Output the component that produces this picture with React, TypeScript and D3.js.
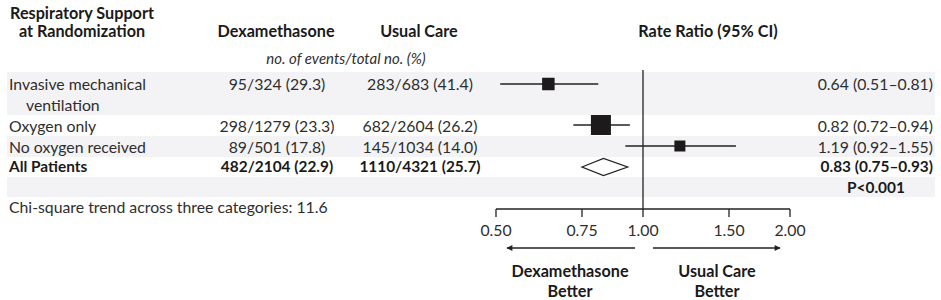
import React from "react";
import * as d3 from "d3";

const rowLabels = [["Invasive mechanical", "ventilation"], ["Oxygen only"], ["No oxygen received"], ["All Patients"]];
const dexaText = ["95/324 (29.3)", "298/1279 (23.3)", "89/501 (17.8)", "482/2104 (22.9)"];
const usualText = ["283/683 (41.4)", "682/2604 (26.2)", "145/1034 (14.0)", "1110/4321 (25.7)"];
const ratio = [0.64, 0.82, 1.19, 0.83];
const lower = [0.51, 0.72, 0.92, 0.75];
const upper = [0.81, 0.94, 1.55, 0.93];
const boxSize = [12.5, 20, 11, 0];
const ratioText = ["0.64 (0.51\u20130.81)", "0.82 (0.72\u20130.94)", "1.19 (0.92\u20131.55)", "0.83 (0.75\u20130.93)"];
const ticks = [0.5, 0.75, 1.0, 1.5, 2.0];
const tickLabels = ["0.50", "0.75", "1.00", "1.50", "2.00"];

const W = 941, H = 300;
const FONT = "Lato, 'Open Sans', sans-serif";
const TXT = "#2e2e2e";
const BOLD = "#1a1a1a";
const STRIPE = "#f3f3f5";
const FS = 15.8;
const FB = 16.2;
const FR = 15.4;

export default function App() {
  const x = d3.scaleLog().domain([0.5, 2.0]).range([496, 790]);
  const rowY = [84, 125, 146, 167];
  const labelY = [[83, 104], [125], [146], [166]];
  const stripes = [[72, 115], [136, 157], [177, 197]];
  const axisY = 209;
  return (
    <svg width={W} height={H} style={{ position: "absolute", left: 0, top: 0, background: "#fff" }} fontFamily={FONT}>
      {stripes.map(([a, b], i) => (
        <rect key={i} x={7} y={a} width={928} height={b - a} fill={STRIPE} />
      ))}
      {/* headers */}
      <text x={82} y={12} textAnchor="middle" dominantBaseline="central" fontSize={FB} fontWeight="bold" fill={BOLD}>Respiratory Support</text>
      <text x={82} y={30} textAnchor="middle" dominantBaseline="central" fontSize={FB} fontWeight="bold" fill={BOLD}>at Randomization</text>
      <text x={276} y={30} textAnchor="middle" dominantBaseline="central" fontSize={FB} fontWeight="bold" fill={BOLD}>Dexamethasone</text>
      <text x={419} y={30} textAnchor="middle" dominantBaseline="central" fontSize={FB} fontWeight="bold" fill={BOLD}>Usual Care</text>
      <text x={708} y={30} textAnchor="middle" dominantBaseline="central" fontSize={FB} fontWeight="bold" fill={BOLD}>Rate Ratio (95% CI)</text>
      <text x={346} y={58} textAnchor="middle" dominantBaseline="central" fontSize={15} fontStyle="italic" fill={TXT}>no. of events/total no. (%)</text>
      {/* rows */}
      {rowLabels.map((lines, i) =>
        lines.map((l, j) => (
          <text key={i + "-" + j} x={j === 0 ? 9 : 26} y={labelY[i][j]} dominantBaseline="central" fontSize={i === 3 ? FR : FS}
            fontWeight={i === 3 ? "bold" : "normal"} fill={i === 3 ? BOLD : TXT}>{l}</text>
        ))
      )}
      {dexaText.map((t, i) => (
        <text key={"d" + i} x={277} y={labelY[i][0]} textAnchor="middle" dominantBaseline="central" fontSize={i === 3 ? FR : FS}
          fontWeight={i === 3 ? "bold" : "normal"} fill={i === 3 ? BOLD : TXT}>{t}</text>
      ))}
      {usualText.map((t, i) => (
        <text key={"u" + i} x={420} y={labelY[i][0]} textAnchor="middle" dominantBaseline="central" fontSize={i === 3 ? FR : FS}
          fontWeight={i === 3 ? "bold" : "normal"} fill={i === 3 ? BOLD : TXT}>{t}</text>
      ))}
      {ratioText.map((t, i) => (
        <text key={"r" + i} x={933} y={labelY[i][0]} textAnchor="end" dominantBaseline="central" fontSize={i === 3 ? FR : FS}
          fontWeight={i === 3 ? "bold" : "normal"} fill={i === 3 ? BOLD : TXT}>{t}</text>
      ))}
      <text x={876} y={187} textAnchor="middle" dominantBaseline="central" fontSize={FR} fontWeight="bold" fill={BOLD}>P&lt;0.001</text>
      <text x={9} y={206} dominantBaseline="central" fontSize={FS} fill={TXT}>Chi-square trend across three categories: 11.6</text>
      {/* reference line */}
      <line x1={x(1)} x2={x(1)} y1={70} y2={axisY} stroke="#222" strokeWidth={1.3} />
      {/* CIs and boxes */}
      {ratio.map((r, i) => {
        if (i === 3) {
          const cy = rowY[i], h = 8.5;
          const pts = [[x(lower[i]), cy], [x(r), cy - h], [x(upper[i]), cy], [x(r), cy + h]];
          return <polygon key={"dm" + i} points={pts.map(p => p.join(",")).join(" ")} fill="#fff" stroke="#222" strokeWidth={1.3} />;
        }
        const s = boxSize[i];
        return (
          <g key={"b" + i}>
            <line x1={x(lower[i])} x2={x(upper[i])} y1={rowY[i]} y2={rowY[i]} stroke="#222" strokeWidth={1.3} />
            <rect x={x(r) - s / 2} y={rowY[i] - s / 2} width={s} height={s} fill="#1c1a1a" />
          </g>
        );
      })}
      {/* axis */}
      <line x1={x(0.5)} x2={x(2)} y1={axisY} y2={axisY} stroke="#222" strokeWidth={1.3} />
      {ticks.map((t, i) => (
        <g key={"t" + i}>
          <line x1={x(t)} x2={x(t)} y1={axisY} y2={axisY + 8} stroke="#222" strokeWidth={1.3} />
          <text x={x(t)} y={229} textAnchor="middle" dominantBaseline="central" fontSize={FS} fill={TXT}>{tickLabels[i]}</text>
        </g>
      ))}
      {/* arrows */}
      <defs>
        <marker id="ah" viewBox="0 0 10 10" refX="9" refY="5" markerWidth="12" markerHeight="6" markerUnits="userSpaceOnUse" orient="auto">
          <path d="M0,0 L10,5 L0,10 z" fill="#222" />
        </marker>
      </defs>
      <line x1={635} x2={507} y1={248} y2={248} stroke="#222" strokeWidth={1.3} markerEnd="url(#ah)" />
      <line x1={653} x2={780} y1={248} y2={248} stroke="#222" strokeWidth={1.3} markerEnd="url(#ah)" />
      <text x={570} y={270} textAnchor="middle" dominantBaseline="central" fontSize={FB} fontWeight="bold" fill={BOLD}>Dexamethasone</text>
      <text x={570} y={290} textAnchor="middle" dominantBaseline="central" fontSize={FB} fontWeight="bold" fill={BOLD}>Better</text>
      <text x={717} y={270} textAnchor="middle" dominantBaseline="central" fontSize={FB} fontWeight="bold" fill={BOLD}>Usual Care</text>
      <text x={717} y={290} textAnchor="middle" dominantBaseline="central" fontSize={FB} fontWeight="bold" fill={BOLD}>Better</text>
    </svg>
  );
}
